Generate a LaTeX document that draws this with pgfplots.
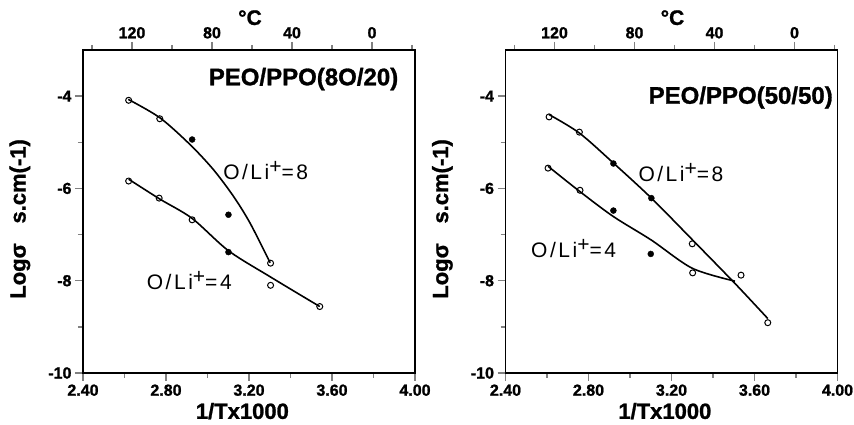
\documentclass[border=0pt]{standalone}
\usepackage{fontspec}
\setmainfont{Liberation Sans}[BoldFeatures={FakeBold=1.2}]
\newfontfamily\labfamily[LetterSpace=12]{Liberation Sans}
\usepackage{pgfplots}
\pgfplotsset{compat=1.18}

\newcommand\tickfont{\bfseries\fontsize{16}{16}\selectfont}
\newcommand\axlabfont{\bfseries\fontsize{22}{22}\selectfont}
\newcommand\degfont{\bfseries\fontsize{21}{21}\selectfont}
\newcommand\titlefont{\bfseries\fontsize{24}{24}\selectfont}
\newcommand\serfont{\labfamily\fontsize{21}{21}\selectfont}

\pgfplotsset{
  mypanel/.style={
    scale only axis, width=332pt, height=323pt,
    xmin=2.4, xmax=4.0, ymin=-10, ymax=-3,
    xtick={2.4,2.8,3.2,3.6,4.0}, xticklabels={2.40,2.80,3.20,3.60,4.00},
    minor xtick={2.6,3.0,3.4,3.8},
    ytick={-10,-8,-6,-4}, yticklabels={-10,-8,-6,-4},
    minor ytick={-9,-7,-5},
    xtick pos=left, ytick pos=left, tick align=outside,
    axis line style={line width=1.5pt},
    major tick length=8pt, minor tick length=5pt,
    major tick style={line width=1.3pt}, minor tick style={line width=1.3pt},
    xticklabel style={font=\tickfont},
    yticklabel style={font=\tickfont},
    xlabel={1/Tx1000},
    ylabel={Logσ\hspace{0.9em}s.cm(-1)},
    xlabel style={font=\axlabfont, at={(axis description cs:0.48,-0.118)}, anchor=center},
    ylabel style={font=\axlabfont, at={(axis description cs:-0.19,0.477)}, anchor=center},
    clip=false,
  },
  mytop/.style={
    scale only axis, width=332pt, height=323pt,
    xmin=-21.5, xmax=144.5, x dir=reverse, ymin=0, ymax=1,
    axis x line*=top, hide y axis,
    xtick={0,40,80,120}, xticklabels={0,40,80,120},
    minor xtick={-20,20,60,100,140},
    tick align=outside,
    axis line style={line width=1.5pt},
    major tick length=8pt, minor tick length=5pt,
    major tick style={line width=1.3pt}, minor tick style={line width=1.3pt},
    xticklabel style={font=\tickfont},
    xlabel={°C},
    xlabel style={font=\degfont, at={(axis description cs:0.503,1.10)}, anchor=center},
  },
  myfit/.style={black, line width=1.6pt, smooth, no markers},
  myopen/.style={black, only marks, mark=o, mark size=3pt, line width=1pt},
  myfilled/.style={black, only marks, mark=*, mark size=3pt},
}

\begin{document}
\begin{tikzpicture}
\path[use as bounding box] (0,0) rectangle (854pt,425pt);

% left panel
\begin{axis}[mypanel, at={(83pt,52pt)}, anchor=south west]
  \addplot[myfit] coordinates {(2.618,-4.07) (2.771,-4.47) (2.916,-5.05) (3.028,-5.59) (3.125,-6.17) (3.205,-6.75) (3.302,-7.61)};
  \addplot[myfit] coordinates {(2.620,-5.80) (2.770,-6.23) (2.926,-6.65) (3.101,-7.35) (3.304,-7.92) (3.541,-8.56)};
  \addplot[myopen] coordinates {(2.620,-4.09) (2.770,-4.49) (3.304,-7.62)};
  \addplot[myfilled] coordinates {(2.926,-4.94) (3.101,-6.57)};
  \addplot[myopen] coordinates {(2.620,-5.84) (2.767,-6.21) (2.926,-6.68) (3.304,-8.10) (3.541,-8.56)};
  \addplot[myfilled] coordinates {(3.101,-7.38)};
  \node[anchor=east, inner sep=0, font=\titlefont] at (axis cs:3.92,-3.63) {PEO/PPO(8O/20)};
  \node[anchor=west, inner sep=0, font=\serfont] at (axis cs:3.075,-5.61) {O/Li\raisebox{0.55ex}{+}=8};
  \node[anchor=west, inner sep=0, font=\serfont] at (axis cs:2.707,-7.99) {O/Li\raisebox{0.55ex}{+}=4};
\end{axis}
\begin{axis}[mytop, at={(83pt,52pt)}, anchor=south west]
  \addplot[draw=none] coordinates {(0,0)};
\end{axis}

% right panel
\begin{axis}[mypanel, at={(505.5pt,52pt)}, anchor=south west]
  \addplot[myfit] coordinates {(2.610,-4.40) (2.756,-4.80) (2.920,-5.45) (3.103,-6.21) (3.300,-7.11) (3.506,-8.06) (3.664,-8.82)};
  \addplot[myfit] coordinates {(2.605,-5.52) (2.759,-6.07) (2.920,-6.61) (3.103,-7.12) (3.300,-7.73) (3.506,-8.01)};
  \addplot[myopen] coordinates {(2.610,-4.45) (2.756,-4.78) (3.300,-7.20) (3.535,-7.88) (3.664,-8.91)};
  \addplot[myfilled] coordinates {(2.920,-5.46) (3.103,-6.21)};
  \addplot[myopen] coordinates {(2.605,-5.56) (2.759,-6.04) (3.302,-7.83)};
  \addplot[myfilled] coordinates {(2.920,-6.48) (3.100,-7.42)};
  \node[anchor=east, inner sep=0, font=\titlefont] at (axis cs:3.978,-4.03) {PEO/PPO(50/50)};
  \node[anchor=west, inner sep=0, font=\serfont] at (axis cs:3.04,-5.65) {O/Li\raisebox{0.55ex}{+}=8};
  \node[anchor=west, inner sep=0, font=\serfont] at (axis cs:2.523,-7.31) {O/Li\raisebox{0.55ex}{+}=4};
\end{axis}
\begin{axis}[mytop, at={(505.5pt,52pt)}, anchor=south west]
  \addplot[draw=none] coordinates {(0,0)};
\end{axis}
\end{tikzpicture}
\end{document}
